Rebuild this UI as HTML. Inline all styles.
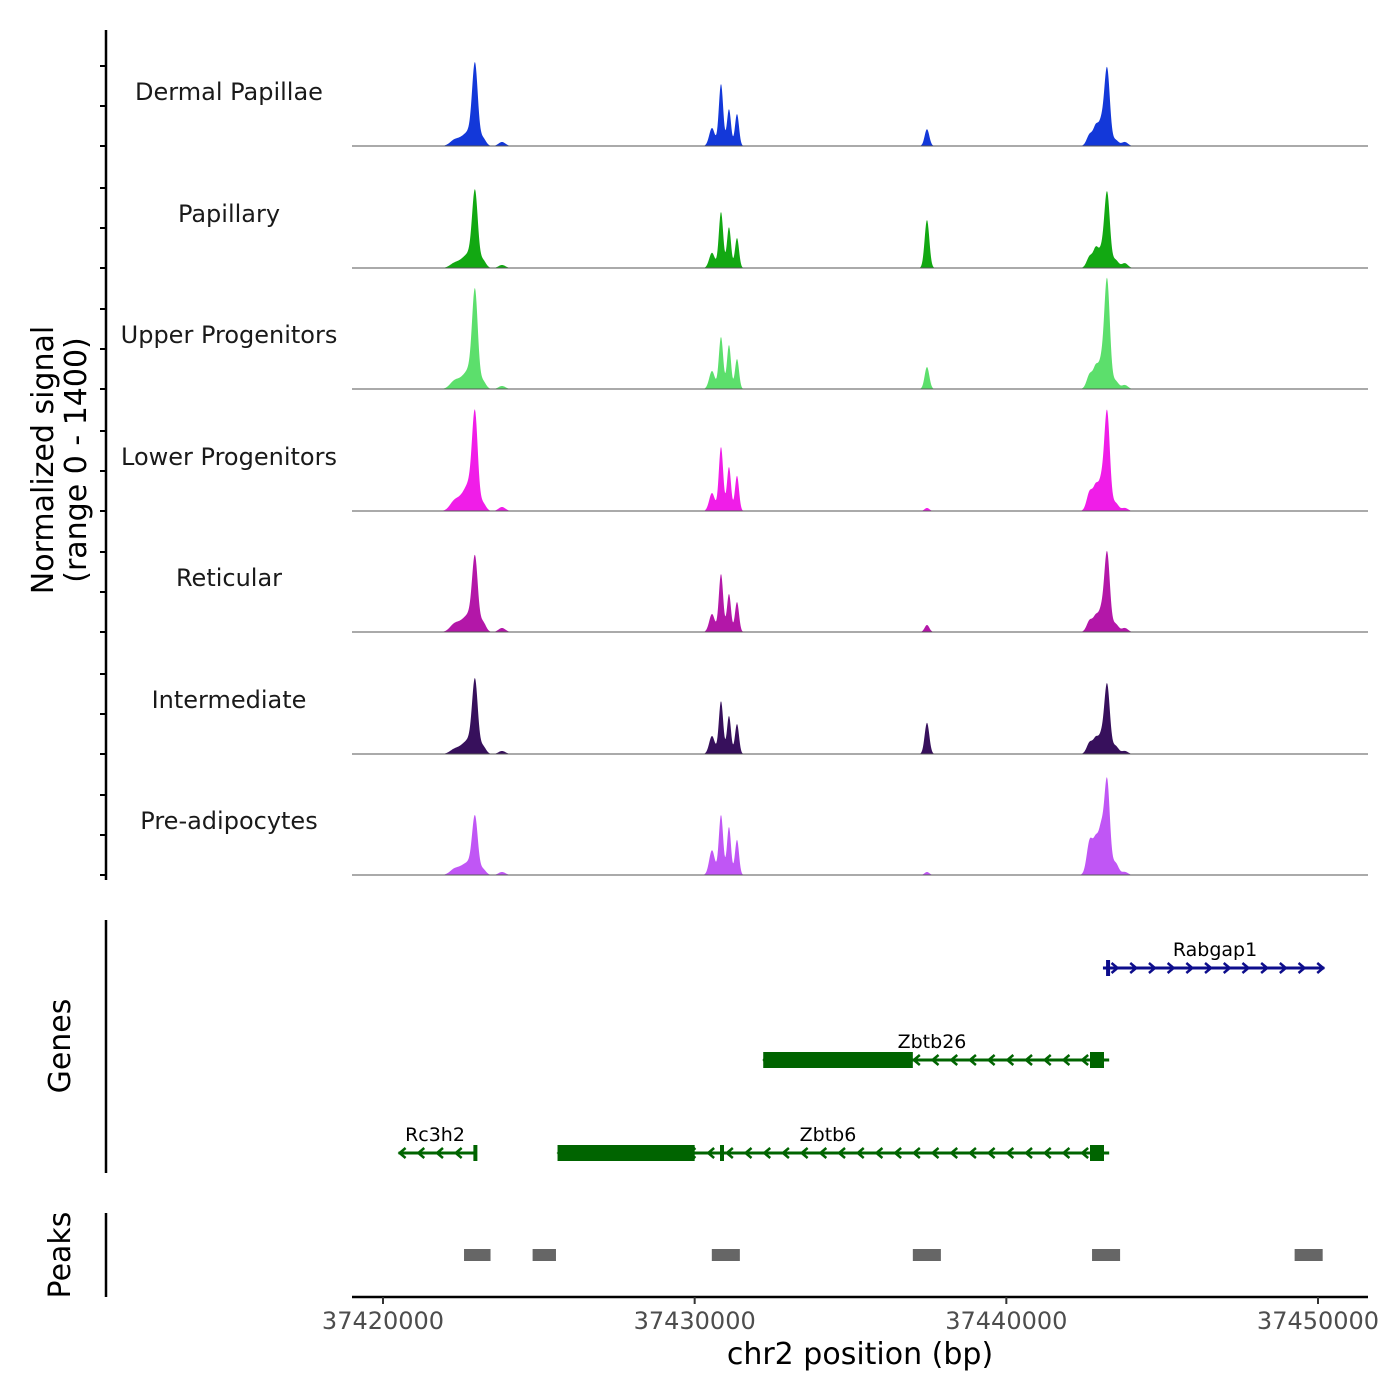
<!DOCTYPE html>
<html><head><meta charset="utf-8"><style>
html,body{margin:0;padding:0;background:#fff}
svg{display:block;font-family:"DejaVu Sans","Liberation Sans",sans-serif}
</style></head><body>
<svg id="chart" width="1400" height="1400" viewBox="0 0 1400 1400" xmlns="http://www.w3.org/2000/svg">
<g id="tracks"></g>
<g id="genes"></g>
<g id="peaks"></g>
<g id="xaxis"></g>
<text x="0" y="0" transform="translate(53,460) rotate(-90)" text-anchor="middle" font-size="30" fill="#000">Normalized signal</text>
<text x="0" y="0" transform="translate(86,460) rotate(-90)" text-anchor="middle" font-size="30" fill="#000">(range 0 - 1400)</text>
<text x="0" y="0" transform="translate(70,1046) rotate(-90)" text-anchor="middle" font-size="30" fill="#000">Genes</text>
<text x="0" y="0" transform="translate(70,1255) rotate(-90)" text-anchor="middle" font-size="30" fill="#000">Peaks</text>
<text x="860" y="1364" text-anchor="middle" font-size="30" fill="#000">chr2 position (bp)</text>
</svg>
<script>
const trackNames = ["Dermal Papillae","Papillary","Upper Progenitors","Lower Progenitors","Reticular","Intermediate","Pre-adipocytes"];
const trackColors = ["#1338d9","#12a812","#5cdf6c","#f01de8","#b317a8","#37105c","#c056f5"];
const peakPositions = [37422300,37422600,37422800,37422952,37423200,37423818,37430556,37430845,37431101,37431358,37437454,37442684,37442877,37443037,37443230,37443500,37443800];
const peakWidths = [150,150,130,90,100,110,90,70,65,65,75,100,80,80,90,100,100];
const sigDermal = [75,100,125,975,100,50,225,775,460,400,210,150,225,250,975,75,50];
const sigPapillary = [60,100,125,910,100,38,190,700,510,375,600,150,225,175,950,100,60];
const sigUpper = [100,125,175,1160,100,38,225,650,550,375,275,190,250,275,1375,100,50];
const sigLower = [125,175,250,1125,100,50,225,800,550,440,38,250,275,310,1250,100,38];
const sigReticular = [100,125,150,875,125,50,225,725,475,375,88,150,175,225,1000,100,50];
const sigIntermediate = [60,100,125,875,100,38,225,660,475,375,390,150,175,190,875,100,38];
const sigPreadipo = [75,100,100,690,75,38,310,750,600,440,38,440,375,500,1190,150,38];
const signals = [sigDermal,sigPapillary,sigUpper,sigLower,sigReticular,sigIntermediate,sigPreadipo];
const xTicks = [37420000,37430000,37440000,37450000];
const geneNames = ["Rabgap1","Zbtb26","Zbtb6","Rc3h2"];
const geneStarts = [37443100,37432200,37425600,37420500];
const geneEnds = [37450200,37443300,37443300,37423000];
const geneCdsStarts = [37443200,37432200,37425600,37422900];
const geneCdsEnds = [37443300,37437000,37430000,37423000];
const geneStrands = ["+","-","-","-"];
const geneRows = [0,1,2,2];
const geneColors = ["#0d0d8c","#006400","#006400","#006400"];
const peakRegionStarts = [37422600,37424800,37430550,37437000,37442750,37449250];
const peakRegionEnds = [37423450,37425550,37431450,37437900,37443650,37450150];

const NS="http://www.w3.org/2000/svg";
function mk(tag,attrs,parent){const e=document.createElementNS(NS,tag);for(const k in attrs)e.setAttribute(k,attrs[k]);parent.appendChild(e);return e;}
const X0=352,X1=1368;
function xs(bp){return 383+(bp-37420000)*(935/30000);}
const unitPx=0.08;
function ys(v,base){return base-v*unitPx;}
const baselines=[146,268,389,511,632,754,875];

const tracks=document.getElementById('tracks');
const axl=mk('line',{x1:106,y1:30,x2:106,y2:880,stroke:'#000','stroke-width':2.5},tracks);


baselines.forEach((b,ti)=>{
  [0,500,1000].forEach(t=>{
    const tk=mk('line',{x1:100,x2:106,y1:ys(t,b),y2:ys(t,b),stroke:'#000','stroke-width':2},tracks);
    
    
  });
  const vals=signals[ti];
  let d='M'+X0+','+b;
  for(let px=X0;px<=X1;px+=0.5){
    const bp=37420000+(px-383)*(30000/935);
    let v=0;
    for(let i=0;i<peakPositions.length;i++){const z=(bp-peakPositions[i])/peakWidths[i];v+=vals[i]*Math.exp(-0.5*z*z);}
    d+=' L'+px+','+ys(v,b).toFixed(2);
  }
  d+=' L'+X1+','+b+' Z';
  const p=mk('path',{d:d,fill:trackColors[ti],stroke:'none'},tracks);
  
  
  const bl=mk('line',{x1:X0,x2:X1,y1:b,y2:b,stroke:'#555','stroke-width':1},tracks);
  
  
  const lb=mk('text',{x:229,y:b-46,'text-anchor':'middle','font-size':24,fill:'#1a1a1a'},tracks);
  lb.textContent=trackNames[ti];
  
  
});

const genes=document.getElementById('genes');
const gl=mk('line',{x1:106,y1:920,x2:106,y2:1173,stroke:'#000','stroke-width':2.5},genes);


const rowY=[968,1060,1153];
geneNames.forEach((g,i)=>{
  const y=rowY[geneRows[i]],c=geneColors[i];
  const x1=xs(geneStarts[i]),x2=xs(geneEnds[i]);
  const grp=mk('g',{},genes);
  
  
  mk('line',{x1:x1,x2:x2,y1:y,y2:y,stroke:c,'stroke-width':3},grp);
  const dir=geneStrands[i]=='+'?1:-1;
  if(dir>0){for(let ax=x2-2;ax>x1+8;ax-=18.7){mk('polyline',{points:`${ax-5},${y-5} ${ax+1},${y} ${ax-5},${y+5}`,fill:'none',stroke:c,'stroke-width':2.5},grp);}}
  else{for(let ax=x1+2;ax<x2-8;ax+=18.7){mk('polyline',{points:`${ax+5},${y-5} ${ax-1},${y} ${ax+5},${y+5}`,fill:'none',stroke:c,'stroke-width':2.5},grp);}}
  const cx1=xs(geneCdsStarts[i]),cx2=xs(geneCdsEnds[i]);
  mk('rect',{x:cx1,y:y-8,width:Math.max(cx2-cx1,4),height:16,fill:c},grp);
  if(geneStrands[i]=='-' && i!==3){mk('rect',{x:1090,y:y-8,width:14,height:16,fill:c},grp);}
  if(g==='Zbtb6'){mk('rect',{x:720,y:y-8,width:4,height:16,fill:c},grp);}
  const t=mk('text',{x:g==='Rabgap1'?1215:(g==='Zbtb26'?932:(g==='Zbtb6'?828:435)),y:y-12,'text-anchor':'middle','font-size':19,fill:'#000'},grp);
  t.textContent=g;
});

const peaks=document.getElementById('peaks');
const pl=mk('line',{x1:106,y1:1213,x2:106,y2:1297,stroke:'#000','stroke-width':2.5},peaks);


peakRegionStarts.forEach((s,i)=>{
  const r=mk('rect',{x:xs(s),y:1249,width:xs(peakRegionEnds[i])-xs(s),height:12,fill:'#666'},peaks);
  
  
});

const xa=document.getElementById('xaxis');
mk('line',{x1:X0,x2:X1,y1:1297,y2:1297,stroke:'#000','stroke-width':2.5},xa);
xTicks.forEach(t=>{
  const x=xs(t);
  const tk=mk('line',{x1:x,x2:x,y1:1297,y2:1304,stroke:'#333','stroke-width':2},xa);
  
  
  const lb=mk('text',{x:x,y:1329,'text-anchor':'middle','font-size':24,fill:'#4d4d4d'},xa);
  lb.textContent=t;
  
  
});
</script>
</body></html>
